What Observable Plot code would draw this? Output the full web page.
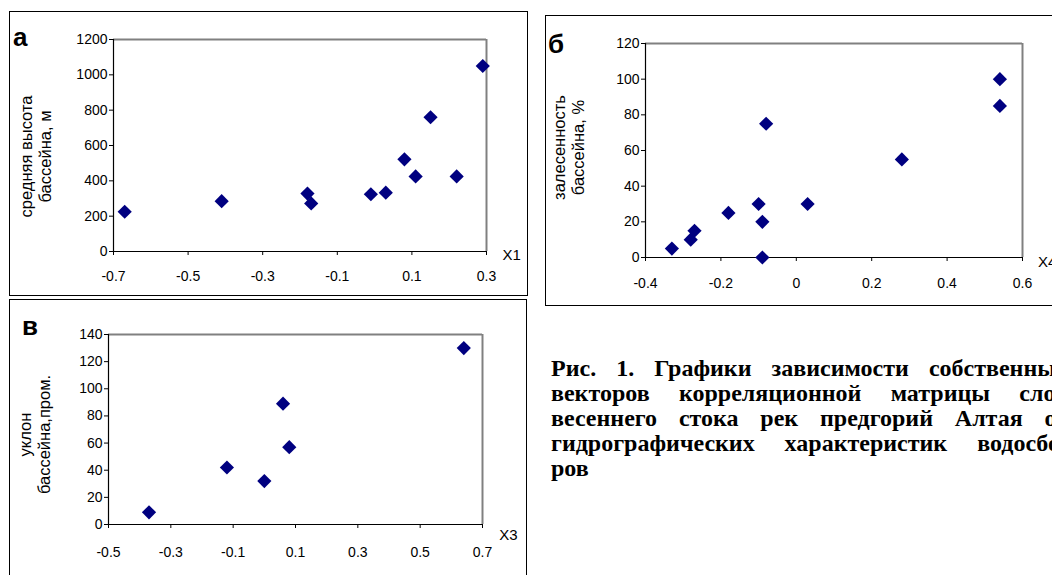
<!DOCTYPE html>
<html>
<head>
<meta charset="utf-8">
<script src="https://cdn.jsdelivr.net/npm/d3@7"></script>
<script src="https://cdn.jsdelivr.net/npm/@observablehq/plot@0.6"></script>
<style>
  html, body { margin: 0; padding: 0; background: #fff; }
  body { width: 1052px; height: 575px; overflow: hidden; position: relative; font-family: "Liberation Sans", Arial, sans-serif; }
  .box { position: absolute; border: 1px solid #000; box-sizing: border-box; }
  .letter { position: absolute; font: bold 26px/26px "Liberation Sans", Arial, sans-serif; color: #000; }
  .cap { position: absolute; left: 551px; width: 517px; font: bold 24px/25px "Liberation Serif", "Times New Roman", serif; color: #000; }
  .cap div { text-align: justify; text-align-last: justify; white-space: nowrap; }
  .cap div.last { text-align: left; text-align-last: left; }
  svg.plotpanel { position: absolute; }
</style>
</head>
<body>
<div class="box" style="left:9px;top:11px;width:519px;height:285px"></div>
<div class="box" style="left:545px;top:15px;width:560px;height:291px"></div>
<div class="box" style="left:9px;top:299px;width:518px;height:300px"></div>
<div class="letter" style="left:13px;top:24px">а</div>
<div class="letter" style="left:548px;top:31px">б</div>
<div class="letter" style="left:22px;top:313px">в</div>
<div class="cap" style="top:356px">
  <div>Рис. 1. Графики зависимости собственных</div>
  <div>векторов корреляционной матрицы слоя</div>
  <div>весеннего стока рек предгорий Алтая от</div>
  <div>гидрографических характеристик водосбо-</div>
  <div class="last">ров</div>
</div>
<script>
// ---- Data ----
// Panel а: X1 vs mean basin height, m
const xA = [-0.67, -0.41, -0.18, -0.17, -0.01, 0.03, 0.08, 0.11, 0.15, 0.22, 0.29];
const yA = [225, 285, 328, 272, 324, 333, 522, 425, 760, 425, 1050];
const xTicksA = [-0.7, -0.5, -0.3, -0.1, 0.1, 0.3];
const yTicksA = [0, 200, 400, 600, 800, 1000, 1200];
const yLabelA = "средняя высота\nбассейна, м";
const xLabelA = "X1";

// Panel б: X4 vs forest cover, %
const xB = [-0.33, -0.28, -0.27, -0.18, -0.10, -0.09, -0.09, -0.08, 0.03, 0.28, 0.54, 0.54];
const yB = [5, 10, 15, 25, 30, 20, 0, 75, 30, 55, 100, 85];
const xTicksB = [-0.4, -0.2, 0, 0.2, 0.4, 0.6];
const yTicksB = [0, 20, 40, 60, 80, 100, 120];
const yLabelB = "залесенность\nбассейна, %";
const xLabelB = "X4";

// Panel в: X3 vs basin slope
const xC = [-0.37, -0.12, 0.0, 0.06, 0.08, 0.64];
const yC = [9, 42, 32, 89, 57, 130];
const xTicksC = [-0.5, -0.3, -0.1, 0.1, 0.3, 0.5, 0.7];
const yTicksC = [0, 20, 40, 60, 80, 100, 120, 140];
const yLabelC = "уклон\nбассейна,пром.";
const xLabelC = "X3";

function panel(o) {
  const data = o.xs.map((x, i) => ({x, y: o.ys[i]}));
  const svg = Plot.plot({
    width: o.width,
    height: o.height,
    marginLeft: o.ml, marginRight: o.mr, marginTop: o.mt, marginBottom: o.mb,
    style: {background: "transparent", fontFamily: "'Liberation Sans', Arial, sans-serif", fontSize: "14px", color: "#000", maxWidth: "none", overflow: "hidden"},
    x: {domain: [o.xTicks[0], o.xTicks[o.xTicks.length - 1]]},
    y: {domain: [o.yTicks[0], o.yTicks[o.yTicks.length - 1]]},
    marks: [
      Plot.ruleY([o.yTicks[o.yTicks.length - 1]], {stroke: "#808080", strokeWidth: 2}),
      Plot.ruleX([o.xTicks[o.xTicks.length - 1]], {stroke: "#808080", strokeWidth: 2}),
      Plot.axisY({ticks: o.yTicks, tickFormat: d => String(d), tickSize: 4, tickPadding: 2, label: null}),
      Plot.axisX({ticks: o.xTicks, tickFormat: d => String(d), tickSize: 4, tickPadding: o.xpad, label: null}),
      Plot.ruleX([o.xTicks[0]], {stroke: "#000", strokeWidth: 1.2}),
      Plot.ruleY([o.yTicks[0]], {stroke: "#000", strokeWidth: 1.2}),
      Plot.text([o.yLabel], {frameAnchor: "left", rotate: -90, dx: o.ylx, dy: o.yly, fontSize: 16.5, lineHeight: 1.15, lineAnchor: "middle", textAnchor: "middle", fill: "#000"}),
      Plot.text([o.xLabel], {frameAnchor: "bottom-right", dx: o.xlx, dy: o.xly, fontSize: 15, textAnchor: "start", lineAnchor: "middle", fill: "#000"}),
      Plot.dot(data, {x: "x", y: "y", symbol: "diamond2", r: 6.4, fill: "#000080", stroke: "none"})
    ]
  });
  svg.classList.add("plotpanel");
  svg.style.left = o.left + "px";
  svg.style.top = o.top + "px";
  document.body.appendChild(svg);
}

panel({xs: xA, ys: yA, xTicks: xTicksA, yTicks: yTicksA, yLabel: yLabelA, xLabel: xLabelA,
  left: 10, top: 12, width: 517, height: 284, ml: 103, mr: 41, mt: 27, mb: 45,
  xpad: 16, ylx: -78, yly: 11, xlx: 16, xly: 4});
panel({xs: xB, ys: yB, xTicks: xTicksB, yTicks: yTicksB, yLabel: yLabelB, xLabel: xLabelB,
  left: 546, top: 16, width: 506, height: 289, ml: 99, mr: 30, mt: 27, mb: 48,
  xpad: 17, ylx: -77, yly: -3, xlx: 15.5, xly: 5});
panel({xs: xC, ys: yC, xTicks: xTicksC, yTicks: yTicksC, yLabel: yLabelC, xLabel: xLabelC,
  left: 10, top: 300, width: 516, height: 275, ml: 98, mr: 44, mt: 34, mb: 51,
  xpad: 19, ylx: -74, yly: 5, xlx: 16.7, xly: 10.7});
</script>
</body>
</html>
